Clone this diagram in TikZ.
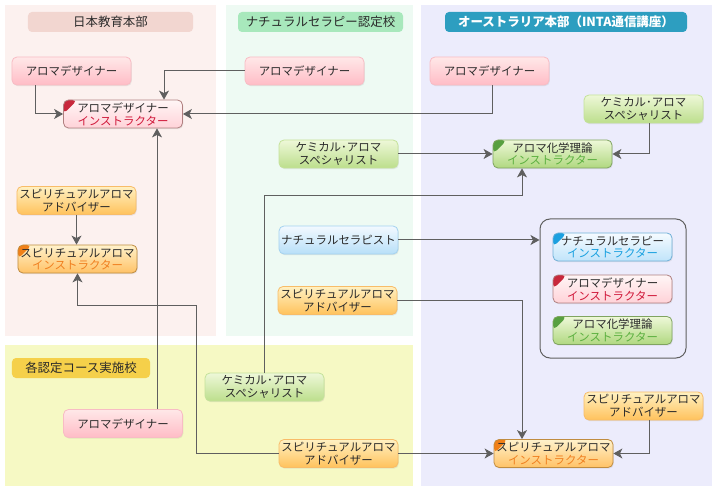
\documentclass[tikz,border=0pt]{standalone}
\usepackage{fontspec}
\setmainfont{Noto Sans CJK JP}
\usetikzlibrary{arrows.meta,shadows}
\definecolor{txt}{HTML}{2A2A2A}
\definecolor{lineC}{HTML}{5F5F5F}
\definecolor{bgPink}{HTML}{FCF1EF}
\definecolor{bgGreen}{HTML}{EEFAF3}
\definecolor{bgBlue}{HTML}{ECECFC}
\definecolor{bgYellow}{HTML}{F6F9C4}
\definecolor{hdPink}{HTML}{F2D6D0}
\definecolor{hdGreen}{HTML}{A8E8BC}
\definecolor{hdBlue}{HTML}{2D9EC0}
\definecolor{hdYellow}{HTML}{F5D04A}
\definecolor{pinkT}{HTML}{FFE8E8}
\definecolor{pinkB}{HTML}{FFBCC6}
\definecolor{pinkD}{HTML}{F8BCC4}
\definecolor{greenT}{HTML}{EEF8D8}
\definecolor{greenB}{HTML}{BCDE8C}
\definecolor{greenD}{HTML}{C4E29A}
\definecolor{blueT}{HTML}{F2F9FF}
\definecolor{blueB}{HTML}{B8DFF8}
\definecolor{blueD}{HTML}{A4D2F0}
\definecolor{orangeT}{HTML}{FFF1C2}
\definecolor{orangeB}{HTML}{FFC25C}
\definecolor{orangeD}{HTML}{F8BC68}
\definecolor{riT}{HTML}{FFF6F6}
\definecolor{riB}{HTML}{FFD2D8}
\definecolor{riD}{HTML}{B08080}
\definecolor{riTri}{HTML}{C8283C}
\definecolor{riTx}{HTML}{D0183A}
\definecolor{giT}{HTML}{EEF8D8}
\definecolor{giB}{HTML}{B0D880}
\definecolor{giD}{HTML}{80A460}
\definecolor{giTri}{HTML}{58A040}
\definecolor{giTx}{HTML}{5CB040}
\definecolor{biT}{HTML}{F6FBFF}
\definecolor{biB}{HTML}{C0E4FA}
\definecolor{biD}{HTML}{70B0D8}
\definecolor{biTri}{HTML}{1CA0E0}
\definecolor{biTx}{HTML}{18A0E0}
\definecolor{oiT}{HTML}{FFF2CC}
\definecolor{oiB}{HTML}{FFC266}
\definecolor{oiD}{HTML}{C08C40}
\definecolor{oiTri}{HTML}{F08018}
\definecolor{oiTx}{HTML}{F08020}
\newcommand\myNodeFont{\fontsize{11.5}{12.8}\selectfont}
\newcommand\myHeadFont{\fontsize{12.5}{14}\selectfont}
\tikzset{
  box/.style={rectangle, rounded corners=5bp, minimum width=119bp, minimum height=28bp,
    inner sep=0pt, align=center, font=\myNodeFont, text=txt, line width=0.8bp,
    drop shadow={opacity=0.15, shadow xshift=0.8bp, shadow yshift=-1.2bp}},
  pinkbox/.style={box, draw=pinkD, top color=pinkT, bottom color=pinkB},
  greenbox/.style={box, draw=greenD, top color=greenT, bottom color=greenB},
  bluebox/.style={box, draw=blueD, top color=blueT, bottom color=blueB},
  orangebox/.style={box, draw=orangeD, top color=orangeT, bottom color=orangeB},
  corner/.style={path picture={\fill[#1] (path picture bounding box.north west) -- ++(14bp,0) -- ++(-14bp,-14bp) -- cycle;}},
  redinst/.style={box, draw=riD, top color=riT, bottom color=riB, corner=riTri},
  greeninst/.style={box, draw=giD, top color=giT, bottom color=giB, corner=giTri},
  blueinst/.style={box, draw=biD, top color=biT, bottom color=biB, corner=biTri},
  orangeinst/.style={box, draw=oiD, top color=oiT, bottom color=oiB, corner=oiTri},
  header/.style={rectangle, rounded corners=4bp, minimum height=20bp, inner sep=0pt, font=\myHeadFont},
  conn/.style={draw=lineC, line width=1bp, -{Stealth[length=9bp,width=10bp,inset=2.5bp]}},
  groupbox/.style={draw=lineC, line width=1bp, rounded corners=10bp, minimum width=146bp, minimum height=139bp, inner sep=0pt}
}
\begin{document}
\begin{tikzpicture}[x=1bp,y=-1bp]
\useasboundingbox (0,0) rectangle (720,494);
\fill[white] (0,0) rectangle (720,494);
% panels
\fill[bgPink] (5,5) rectangle (216,336);
\fill[bgGreen] (226,5) rectangle (413,336);
\fill[bgBlue] (421,5) rectangle (712,486);
\fill[bgYellow] (5,345) rectangle (413,486);
% headers
\node[header, fill=hdPink, minimum width=165bp, text=txt] (h1) at (110.5,22) {日本教育本部};
\node[header, fill=hdGreen, minimum width=165bp, text=txt] (h2) at (320.5,22) {ナチュラルセラピー認定校};
\node[header, fill=hdBlue, minimum width=242bp, text=white, font=\myHeadFont\bfseries] (h3) at (566,22) {オーストラリア本部（INTA通信講座）};
\node[header, fill=hdYellow, minimum width=138bp, text=txt] (h4) at (81,368) {各認定コース実施校};
% helper coordinates
\coordinate (x35) at (35,0);
\coordinate (x164) at (164,0);
\coordinate (x492) at (492,0);
\coordinate (x649) at (649,0);
\coordinate (x264) at (264,0);
\coordinate (x522) at (522,0);
\coordinate (x157) at (157,0);
\coordinate (c6) at (264,196);
\coordinate (c11) at (196,305);
% nodes
\node[pinkbox] (pl1) at (71.5,71) {アロマデザイナー};
\node[pinkbox] (pg1) at (304.5,71) {アロマデザイナー};
\node[pinkbox] (pb1) at (489.5,71) {アロマデザイナー};
\node[redinst] (ri) at (123,114) {アロマデザイナー\\\textcolor{riTx}{インストラクター}};
\node[greenbox] (gs1) at (643.5,109) {ケミカル･アロマ\\スペシャリスト};
\node[greeninst] (gi1) at (552.5,154) {アロマ化学理論\\\textcolor{giTx}{インストラクター}};
\node[greenbox] (gs2) at (338.5,154) {ケミカル･アロマ\\スペシャリスト};
\node[orangebox] (oa1) at (76.5,200.5) {スピリチュアルアロマ\\アドバイザー};
\node[orangeinst] (oi1) at (77.5,259) {スピリチュアルアロマ\\\textcolor{oiTx}{インストラクター}};
\node[bluebox] (nt) at (338.5,240) {ナチュラルセラピスト};
\node[orangebox] (oa2) at (337.5,300.5) {スピリチュアルアロマ\\アドバイザー};
\node[groupbox] (grp) at (613,288.5) {};
\node[blueinst] (bi) at (612.5,247) {ナチュラルセラピー\\\textcolor{biTx}{インストラクター}};
\node[redinst] (ri2) at (612.5,289) {アロマデザイナー\\\textcolor{riTx}{インストラクター}};
\node[greeninst] (gi2) at (612.5,330.5) {アロマ化学理論\\\textcolor{giTx}{インストラクター}};
\node[greenbox] (gs3) at (264.5,387) {ケミカル･アロマ\\スペシャリスト};
\node[pinkbox] (py) at (123,423.5) {アロマデザイナー};
\node[orangebox] (oa3) at (338.5,453.5) {スピリチュアルアロマ\\アドバイザー};
\node[orangebox] (oa4) at (643.5,406) {スピリチュアルアロマ\\アドバイザー};
\node[orangeinst] (oi2) at (553.5,453.5) {スピリチュアルアロマ\\\textcolor{oiTx}{インストラクター}};
% connectors
\draw[conn] (pl1.south -| x35) |- (ri.west);
\draw[conn] (pg1.west) -| (ri.north -| x164);
\draw[conn] (pb1.south -| x492) |- (ri.east);
\draw[conn] (gs1.south -| x649) |- (gi1.east);
\draw[conn] (gs2.east) -- (gi1.west);
\draw[conn] (gs3.north -| x264) -- (c6) -| (gi1.south -| x522);
\draw[conn] (nt.east) -- (grp.west |- nt.east);
\draw[conn] (oa2.east) -| (oi2.north -| x522);
\draw[conn] (oa1.south) -- (oa1.south |- oi1.north);
\draw[conn] (py.north -| x157) -- (ri.south -| x157);
\draw[conn] (oa3.west) -| (c11) -| (oi1.south);
\draw[conn] (oa3.east) -- (oi2.west);
\draw[conn] (oa4.south -| x649) |- (oi2.east);
\end{tikzpicture}
\end{document}
